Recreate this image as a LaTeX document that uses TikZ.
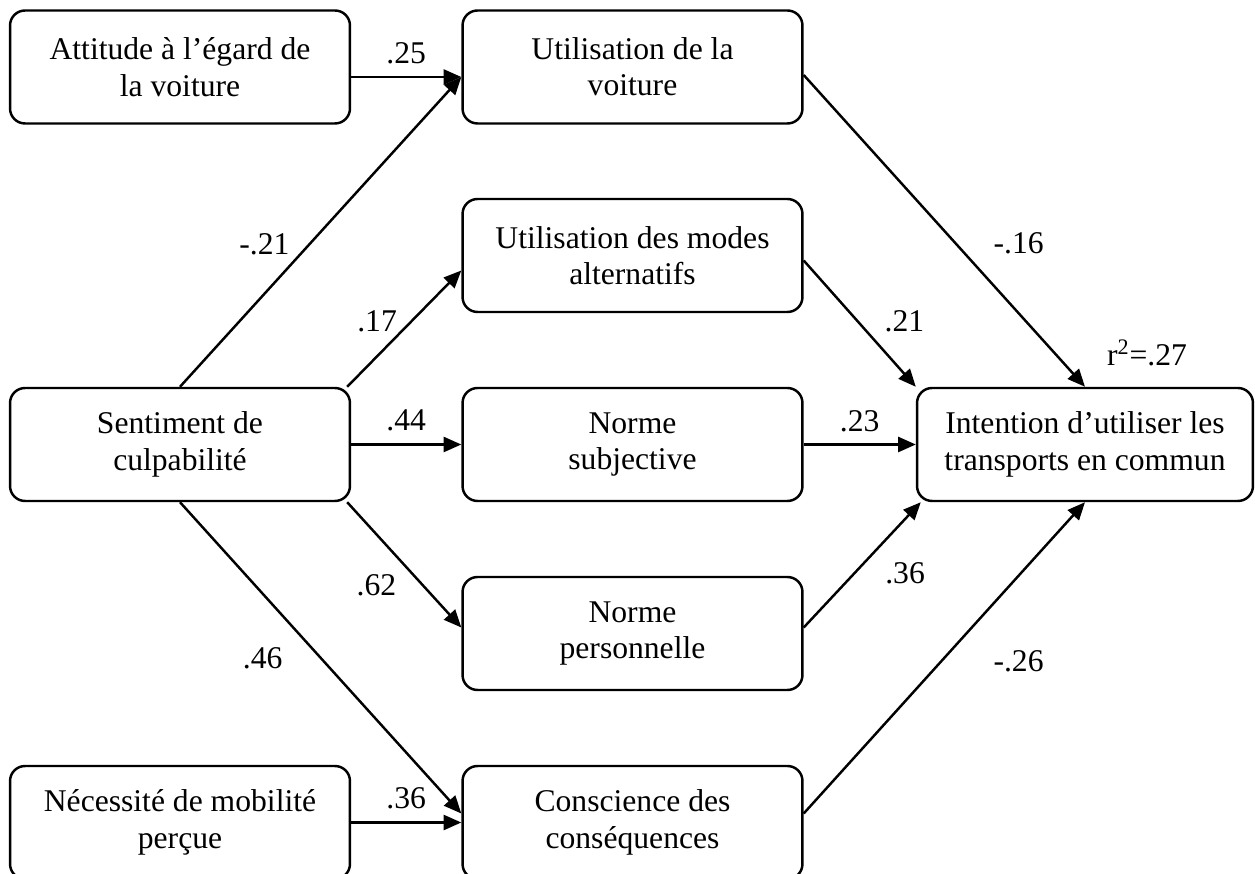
\documentclass[tikz,border=0pt]{standalone}
\usepackage{fontspec}
\setmainfont{Liberation Serif}
\usetikzlibrary{arrows.meta}
\tikzset{
 box/.style={draw,line width=1.4pt,rounded corners=0.3cm,minimum width=6.8cm,minimum height=2.26cm,inner sep=0pt,align=center},
 arr/.style={-{Triangle[length=10pt,width=8.5pt]},line width=1.4pt},
 lbl/.style={inner sep=0pt}
}
\begin{document}
\begin{tikzpicture}[x=0.02cm,y=-0.02cm,font=\fontsize{18}{20.7}\selectfont]
 \useasboundingbox (0,0) rectangle (1255,874);
 % variables
 \node[box](att) at (180,67) {Attitude à l’égard de\\la voiture};
 \node[box](uv) at (632.5,67) {Utilisation de la\\voiture};
 \node[box](um) at (632.5,255.5) {Utilisation des modes\\alternatifs};
 \node[box](sent) at (180,444.5) {Sentiment de\\culpabilité};
 \node[box](ns) at (632.5,444.5) {Norme\\subjective};
 \node[box](np) at (632.5,633.5) {Norme\\personnelle};
 \node[box](nec) at (180,822.5) {Nécessité de mobilité\\perçue};
 \node[box](cc) at (632.5,822.5) {Conscience des\\conséquences};
 \node[box,minimum width=6.72cm](int) at (1085,444.5) {Intention d’utiliser les\\transports en commun};
 \node[anchor=base](r2) at ([shift={(62,-21)}]int.north) {r\textsuperscript{2}=.27};
 % paths
 \draw[arr] ([shift={(0,10)}]att.east) -- node[lbl,midway,shift={(0,-24)}](w25){.25} ([shift={(0,10)}]uv.west);
 \draw[arr] (sent.north) -- node[lbl,pos=.46,shift={(-45,0)}](w21){-.21} ([shift={(0,10)}]uv.west);
 \draw[arr] ([shift={(-4,0)}]sent.north east) -- node[lbl,pos=.56,shift={(-34,0)}](w17){.17} ([shift={(0,15)}]um.west);
 \draw[arr] (sent) -- node[lbl,midway,shift={(0,-24)}](w44){.44} (ns);
 \draw[arr] ([shift={(-4,0)}]sent.south east) -- node[lbl,pos=.66,shift={(-46,0)}](w62){.62} ([shift={(0,-6)}]np.west);
 \draw[arr] (sent.south) -- node[lbl,pos=.5,shift={(-58,0)}](w46){.46} ([shift={(0,-9)}]cc.west);
 \draw[arr] (nec) -- node[lbl,midway,shift={(0,-24)}](w36){.36} (cc);
 \draw[arr] ([shift={(0,8)}]uv.east) -- node[lbl,pos=.54,shift={(63,0)}](w16){-.16} (int.north);
 \draw[arr] ([shift={(0,5)}]um.east) -- node[lbl,pos=.48,shift={(47,0)}](w21b){.21} (int.north west);
 \draw[arr] (ns) -- node[lbl,midway,shift={(0,-23)}](w23){.23} (int);
 \draw[arr] ([shift={(0,-6)}]np.east) -- node[lbl,pos=.43,shift={(51,0)}](w36b){.36} ([shift={(5,0)}]int.south west);
 \draw[arr] ([shift={(0,-9)}]cc.east) -- node[lbl,pos=.49,shift={(77,0)}](w26){-.26} (int.south);
\end{tikzpicture}
\end{document}
